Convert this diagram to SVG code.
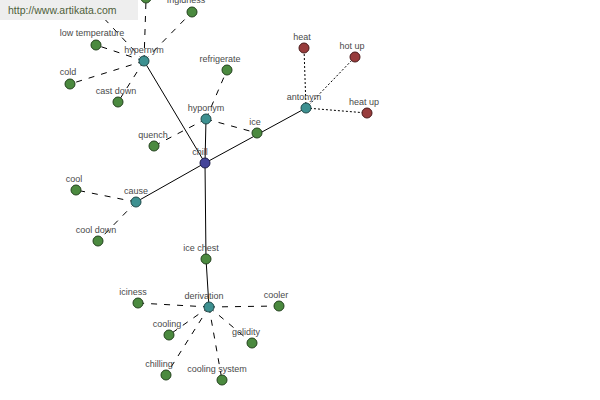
<svg xmlns="http://www.w3.org/2000/svg" width="600" height="400" viewBox="0 0 600 400">
<style>
.solid{stroke:#000;stroke-width:1;fill:none}
.dash{stroke:#000;stroke-width:1;stroke-dasharray:6,7;fill:none}
.dot{stroke:#000;stroke-width:1;stroke-dasharray:2,2;fill:none}
.n circle{stroke:#1e2e1e;stroke-width:1}
.rel circle{fill:#3d9090;stroke:#1f4a4a}
.leaf circle{fill:#4b8a3f;stroke:#23421d}
.ant circle{fill:#983c3c;stroke:#4a1a1a}
.root circle{fill:#44449a;stroke:#1e1e4a}
text{font-family:"Liberation Sans",Arial,sans-serif;font-size:9px;fill:#4a4a4a;text-anchor:middle}
</style>
<rect width="600" height="400" fill="#fff"/>
<g id="connectors">
<line class="solid" x1="205" y1="163" x2="144" y2="61"/>
<line class="solid" x1="205" y1="163" x2="206" y2="119"/>
<line class="solid" x1="205" y1="163" x2="306" y2="108"/>
<line class="solid" x1="205" y1="163" x2="136" y2="202"/>
<line class="solid" x1="205" y1="163" x2="206" y2="259"/>
<line class="solid" x1="206" y1="259" x2="209" y2="307"/>
<line class="dash" x1="144" y1="61" x2="146" y2="0"/>
<line class="dash" x1="144" y1="61" x2="192" y2="12"/>
<line class="dash" x1="144" y1="61" x2="98" y2="12"/>
<line class="dash" x1="144" y1="61" x2="96" y2="45"/>
<line class="dash" x1="144" y1="61" x2="70" y2="84"/>
<line class="dash" x1="144" y1="61" x2="118" y2="102"/>
<line class="dash" x1="206" y1="119" x2="227" y2="70"/>
<line class="dash" x1="206" y1="119" x2="154" y2="146"/>
<line class="dash" x1="206" y1="119" x2="257" y2="133"/>
<line class="dot" x1="306" y1="108" x2="304" y2="48"/>
<line class="dot" x1="306" y1="108" x2="355" y2="57"/>
<line class="dot" x1="306" y1="108" x2="367" y2="113"/>
<line class="dash" x1="136" y1="202" x2="76" y2="190"/>
<line class="dash" x1="136" y1="202" x2="98" y2="241"/>
<line class="dash" x1="209" y1="307" x2="138" y2="303"/>
<line class="dash" x1="209" y1="307" x2="279" y2="306"/>
<line class="dash" x1="209" y1="307" x2="169" y2="335"/>
<line class="dash" x1="209" y1="307" x2="252" y2="343"/>
<line class="dash" x1="209" y1="307" x2="166" y2="375"/>
<line class="dash" x1="209" y1="307" x2="222" y2="380"/>
</g>
<g id="n-top" class="n leaf"><circle cx="146" cy="-2" r="5"/></g>
<g id="n-frigidness" class="n leaf"><text x="186" y="3">frigidness</text><circle cx="192" cy="12" r="5"/></g>
<g id="n-lowtemp" class="n leaf"><text x="92" y="36">low temperature</text><circle cx="96" cy="45" r="5"/></g>
<g id="n-cold" class="n leaf"><text x="68" y="75">cold</text><circle cx="70" cy="84" r="5"/></g>
<g id="n-castdown" class="n leaf"><text x="116" y="94">cast down</text><circle cx="118" cy="102" r="5"/></g>
<g id="n-hypernym" class="n rel"><text x="144" y="53">hypernym</text><circle cx="144" cy="61" r="5"/></g>
<g id="n-refrigerate" class="n leaf"><text x="220" y="62">refrigerate</text><circle cx="227" cy="70" r="5"/></g>
<g id="n-hyponym" class="n rel"><text x="206" y="111">hyponym</text><circle cx="206" cy="119" r="5"/></g>
<g id="n-quench" class="n leaf"><text x="153" y="138">quench</text><circle cx="154" cy="146" r="5"/></g>
<g id="n-ice" class="n leaf"><text x="255" y="125">ice</text><circle cx="257" cy="133" r="5"/></g>
<g id="n-antonym" class="n rel"><text x="304" y="100">antonym</text><circle cx="306" cy="108" r="5"/></g>
<g id="n-heat" class="n ant"><text x="302" y="40">heat</text><circle cx="304" cy="48" r="5"/></g>
<g id="n-hotup" class="n ant"><text x="352" y="49">hot up</text><circle cx="355" cy="57" r="5"/></g>
<g id="n-heatup" class="n ant"><text x="364" y="105">heat up</text><circle cx="367" cy="113" r="5"/></g>
<g id="n-chill" class="n root"><text x="200" y="155">chill</text><circle cx="205" cy="163" r="5"/></g>
<g id="n-cause" class="n rel"><text x="136" y="194">cause</text><circle cx="136" cy="202" r="5"/></g>
<g id="n-cool" class="n leaf"><text x="74" y="182">cool</text><circle cx="76" cy="190" r="5"/></g>
<g id="n-cooldown" class="n leaf"><text x="96" y="233">cool down</text><circle cx="98" cy="241" r="5"/></g>
<g id="n-icechest" class="n leaf"><text x="201" y="251">ice chest</text><circle cx="206" cy="259" r="5"/></g>
<g id="n-derivation" class="n rel"><text x="204" y="299">derivation</text><circle cx="209" cy="307" r="5"/></g>
<g id="n-iciness" class="n leaf"><text x="133" y="295">iciness</text><circle cx="138" cy="303" r="5"/></g>
<g id="n-cooler" class="n leaf"><text x="276" y="298">cooler</text><circle cx="279" cy="306" r="5"/></g>
<g id="n-cooling" class="n leaf"><text x="167" y="327">cooling</text><circle cx="169" cy="335" r="5"/></g>
<g id="n-gelidity" class="n leaf"><text x="246" y="335">gelidity</text><circle cx="252" cy="343" r="5"/></g>
<g id="n-chilling" class="n leaf"><text x="159" y="367">chilling</text><circle cx="166" cy="375" r="5"/></g>
<g id="n-coolingsystem" class="n leaf"><text x="217" y="372">cooling system</text><circle cx="222" cy="380" r="5"/></g>
<g id="watermark">
<rect x="0" y="0" width="138" height="20" fill="#eeeeee"/>
<text x="8" y="14" style="text-anchor:start;font-size:10.5px;fill:#4f5f3a">http://www.artikata.com</text>
</g>
</svg>
